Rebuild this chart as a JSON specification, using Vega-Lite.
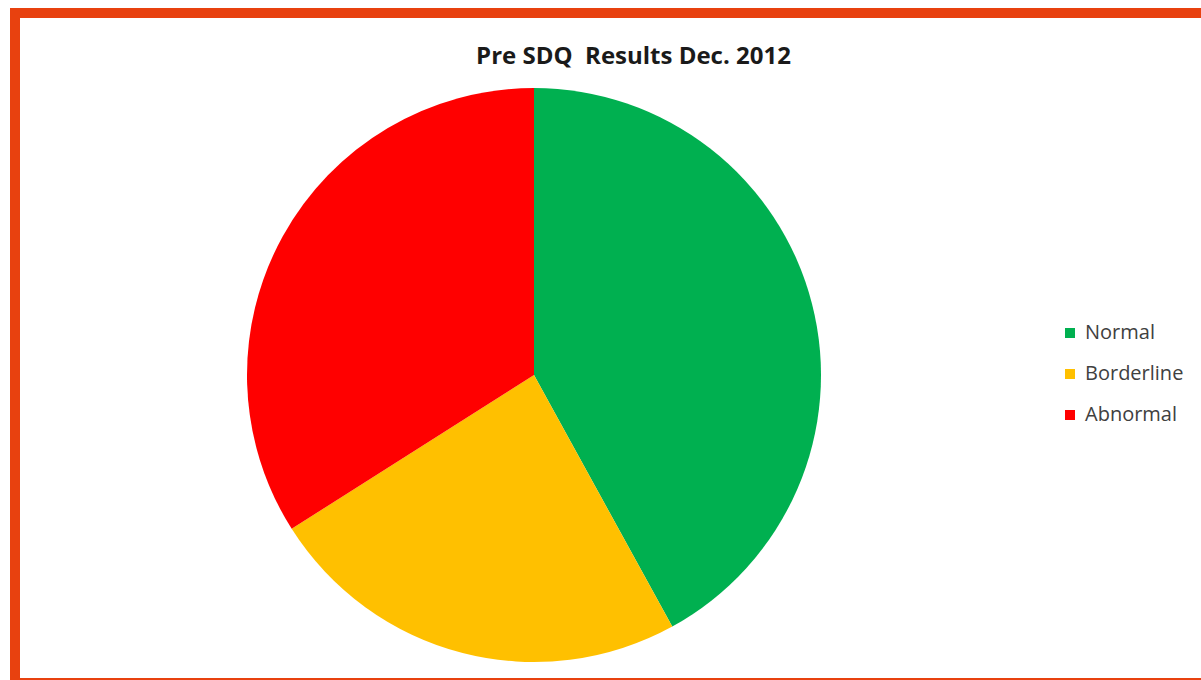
{
  "$schema": "https://vega.github.io/schema/vega-lite/v6.json",
  "autosize": "none",
  "width": 1195,
  "height": 670,
  "padding": {"left": 15, "top": 13, "right": 0, "bottom": 0},
  "background": "white",
  "title": {
    "text": "Pre SDQ\u00a0 Results Dec. 2012",
    "font": "Open Sans",
    "fontSize": 24,
    "fontWeight": "bold",
    "color": "#1a1a1a",
    "anchor": "middle",
    "frame": "group",
    "dx": 21,
    "offset": -80,
    "baseline": "alphabetic"
  },
  "layer": [
    {
      "data": {"values": [{"frame": "border"}]},
      "mark": {"type": "rect", "fill": "white", "stroke": "#E8410F", "strokeWidth": 10},
      "encoding": {}
    },
    {
      "data": {
        "values": [
          {"category": "Normal", "value": 42, "order": 1},
          {"category": "Borderline", "value": 24, "order": 2},
          {"category": "Abnormal", "value": 34, "order": 3}
        ]
      },
      "mark": {"type": "arc", "radius": 287, "x": 519, "y": 362},
      "encoding": {
        "theta": {"field": "value", "type": "quantitative", "stack": true},
        "order": {"field": "order", "type": "quantitative"},
        "color": {
          "field": "category",
          "type": "nominal",
          "sort": ["Normal", "Borderline", "Abnormal"],
          "scale": {"domain": ["Normal", "Borderline", "Abnormal"], "range": ["#00B050", "#FFC000", "#FF0000"]},
          "legend": {
            "title": null,
            "orient": "none",
            "legendX": 1045,
            "legendY": 310,
            "symbolType": "square",
            "symbolSize": 100,
            "symbolStrokeWidth": 0,
            "labelFont": "Open Sans",
            "labelFontSize": 20,
            "labelColor": "#404040",
            "labelOffset": 5,
            "rowPadding": 21
          }
        }
      }
    }
  ],
  "config": {
    "view": {"stroke": null}
  }
}
